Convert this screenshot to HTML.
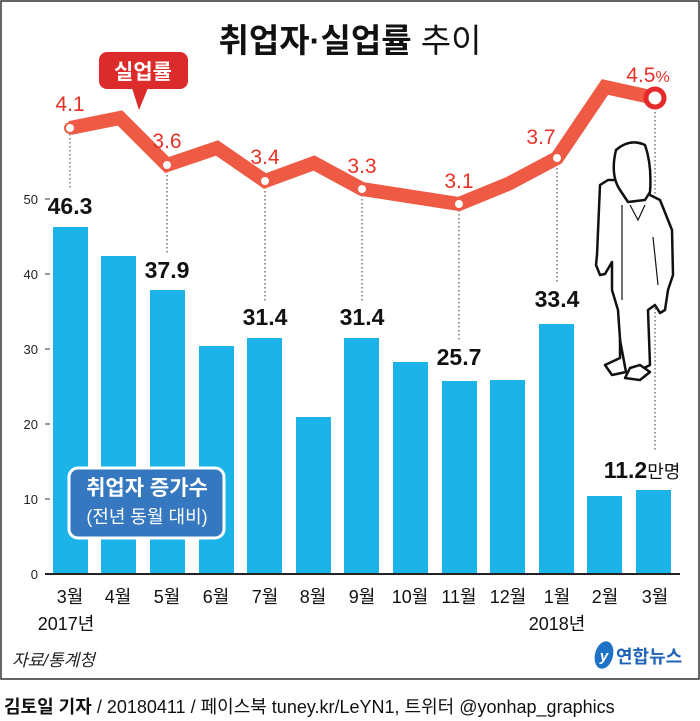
<!DOCTYPE html>
<html><head><meta charset="utf-8"><style>
body{margin:0;background:#fff;}
svg{display:block;font-family:"Liberation Sans","Noto Sans CJK KR",sans-serif;}
</style></head><body>
<svg width="700" height="721" viewBox="0 0 700 721" xmlns="http://www.w3.org/2000/svg">
<rect x="1" y="1" width="698" height="678" fill="#fff" stroke="#333" stroke-width="1.5"/>
<text x="350" y="52" text-anchor="middle" font-size="33" font-weight="bold" fill="#111">취업자·실업률 <tspan font-weight="normal">추이</tspan></text>
<g font-size="13" fill="#222" text-anchor="end">
<text x="38" y="204">50</text><text x="38" y="279">40</text><text x="38" y="354">30</text><text x="38" y="429">20</text><text x="38" y="504">10</text><text x="38" y="579">0</text>
</g>
<g stroke="#333" stroke-width="1">
<line x1="45" y1="199" x2="50" y2="199"/><line x1="45" y1="274" x2="50" y2="274"/><line x1="45" y1="349" x2="50" y2="349"/><line x1="45" y1="424" x2="50" y2="424"/><line x1="45" y1="499" x2="50" y2="499"/>
</g>
<g fill="#1cb4e8">
<rect x="53" y="227" width="35" height="347"/>
<rect x="101" y="256" width="35" height="318"/>
<rect x="150" y="290" width="35" height="284"/>
<rect x="199" y="346" width="35" height="228"/>
<rect x="247" y="338" width="35" height="236"/>
<rect x="296" y="417" width="35" height="157"/>
<rect x="344" y="338" width="35" height="236"/>
<rect x="393" y="362" width="35" height="212"/>
<rect x="442" y="381" width="35" height="193"/>
<rect x="490" y="380" width="35" height="194"/>
<rect x="539" y="324" width="35" height="250"/>
<rect x="587" y="496" width="35" height="78"/>
<rect x="636" y="490" width="35" height="84"/>
</g>
<line x1="45" y1="574" x2="680" y2="574" stroke="#222" stroke-width="2"/>
<g stroke="#333" stroke-width="1" stroke-dasharray="1.5,2.5">
<line x1="70" y1="134" x2="70" y2="190"/>
<line x1="167" y1="171" x2="167" y2="255"/>
<line x1="265" y1="187" x2="265" y2="302"/>
<line x1="362" y1="195" x2="362" y2="302"/>
<line x1="459" y1="210" x2="459" y2="342"/>
<line x1="557" y1="164" x2="557" y2="284"/>
<line x1="655" y1="108" x2="655" y2="452"/>
</g>
<polyline points="70,128 120,118 167,165 217,148 265,181 314,163 362,189 459,204 508,184 557,158 605,87 655,98" fill="none" stroke="#ef5a45" stroke-width="14" stroke-linejoin="miter"/>
<g fill="#fff" stroke="#ef5a45" stroke-width="2">
<circle cx="70" cy="128" r="5"/><circle cx="167" cy="165" r="5"/><circle cx="265" cy="181" r="5"/><circle cx="362" cy="189" r="5"/><circle cx="459" cy="204" r="5"/><circle cx="557" cy="158" r="5"/>
</g>
<circle cx="655" cy="98" r="9" fill="#fff" stroke="#e42a2a" stroke-width="5"/>
<g fill="#e63228" font-size="21" text-anchor="middle">
<text x="70" y="111">4.1</text><text x="167" y="148">3.6</text><text x="265" y="164">3.4</text><text x="362" y="173">3.3</text><text x="459" y="188">3.1</text><text x="541" y="144">3.7</text>
<text x="648" y="82">4.5<tspan font-size="16">%</tspan></text>
</g>
<rect x="99" y="52" width="89" height="37" rx="8" fill="#dc2b2b"/>
<polygon points="132,88 148,88 139,110" fill="#dc2b2b"/>
<text x="143" y="79" text-anchor="middle" font-size="21" font-weight="bold" fill="#fff">실업률</text>
<g font-size="23" fill="#111" text-anchor="middle" font-weight="bold">
<text x="70" y="214">46.3</text><text x="167" y="278">37.9</text><text x="265" y="325">31.4</text><text x="362" y="325">31.4</text><text x="459" y="365">25.7</text><text x="557" y="307">33.4</text>
<text x="642" y="478">11.2<tspan font-size="18" font-weight="normal">만명</tspan></text>
</g>
<rect x="69" y="468" width="155" height="70" rx="9" fill="#3578bf" stroke="#fff" stroke-width="3"/>
<text x="147" y="495" text-anchor="middle" font-size="21" font-weight="bold" fill="#fff">취업자 증가수</text>
<text x="147" y="523" text-anchor="middle" font-size="18" fill="#fff">(전년 동월 대비)</text>
<g font-size="18" fill="#111" text-anchor="middle">
<text x="70" y="603">3월</text><text x="118" y="603">4월</text><text x="167" y="603">5월</text><text x="216" y="603">6월</text><text x="265" y="603">7월</text><text x="313" y="603">8월</text><text x="362" y="603">9월</text><text x="410" y="603">10월</text><text x="459" y="603">11월</text><text x="508" y="603">12월</text><text x="557" y="603">1월</text><text x="605" y="603">2월</text><text x="655" y="603">3월</text>
<text x="66" y="630">2017년</text><text x="557" y="630">2018년</text>
</g>
<text x="12" y="666" font-size="17" font-style="italic" fill="#222">자료/통계청</text>
<ellipse cx="604" cy="655" rx="9" ry="14" fill="#1f73c6" transform="rotate(15 604 655)"/>
<text x="604" y="661" text-anchor="middle" font-size="15" font-style="italic" font-weight="bold" fill="#fff">y</text>
<text x="616" y="663" font-size="18" font-weight="bold" fill="#1f64b8">연합뉴스</text>
<g fill="#fff" stroke="#111" stroke-width="2.5" stroke-linejoin="round">
<path d="M608,180 L600,185 L597,255 L596,265 L600,275 L605,274 L612,262 L612,290 L618,310 L622,368 L630,375 L650,365 L648,310 L655,305 L660,313 L665,310 L668,290 L673,275 L672,230 L660,200 L650,195 L647,180 Z"/>
<path d="M616,150 Q630,138 645,145 Q652,165 650,192 L645,200 L628,202 L620,190 Q610,175 616,150 Z"/>
<path d="M620,340 L626,372 L612,375 L605,365 L620,358 Z"/>
<path d="M640,365 L650,372 L640,380 L625,378 L630,368 Z"/>
</g>
<g stroke="#111" stroke-width="1.2" fill="none">
<line x1="622" y1="205" x2="622" y2="300"/>
<path d="M630,205 L638,220 L645,205"/>
<line x1="653" y1="237" x2="658" y2="285"/>
</g>
<text x="4" y="713" font-size="18" fill="#111"><tspan font-weight="bold">김토일 기자</tspan> / 20180411 / 페이스북 tuney.kr/LeYN1, 트위터 @yonhap_graphics</text>
</svg>
</body></html>
